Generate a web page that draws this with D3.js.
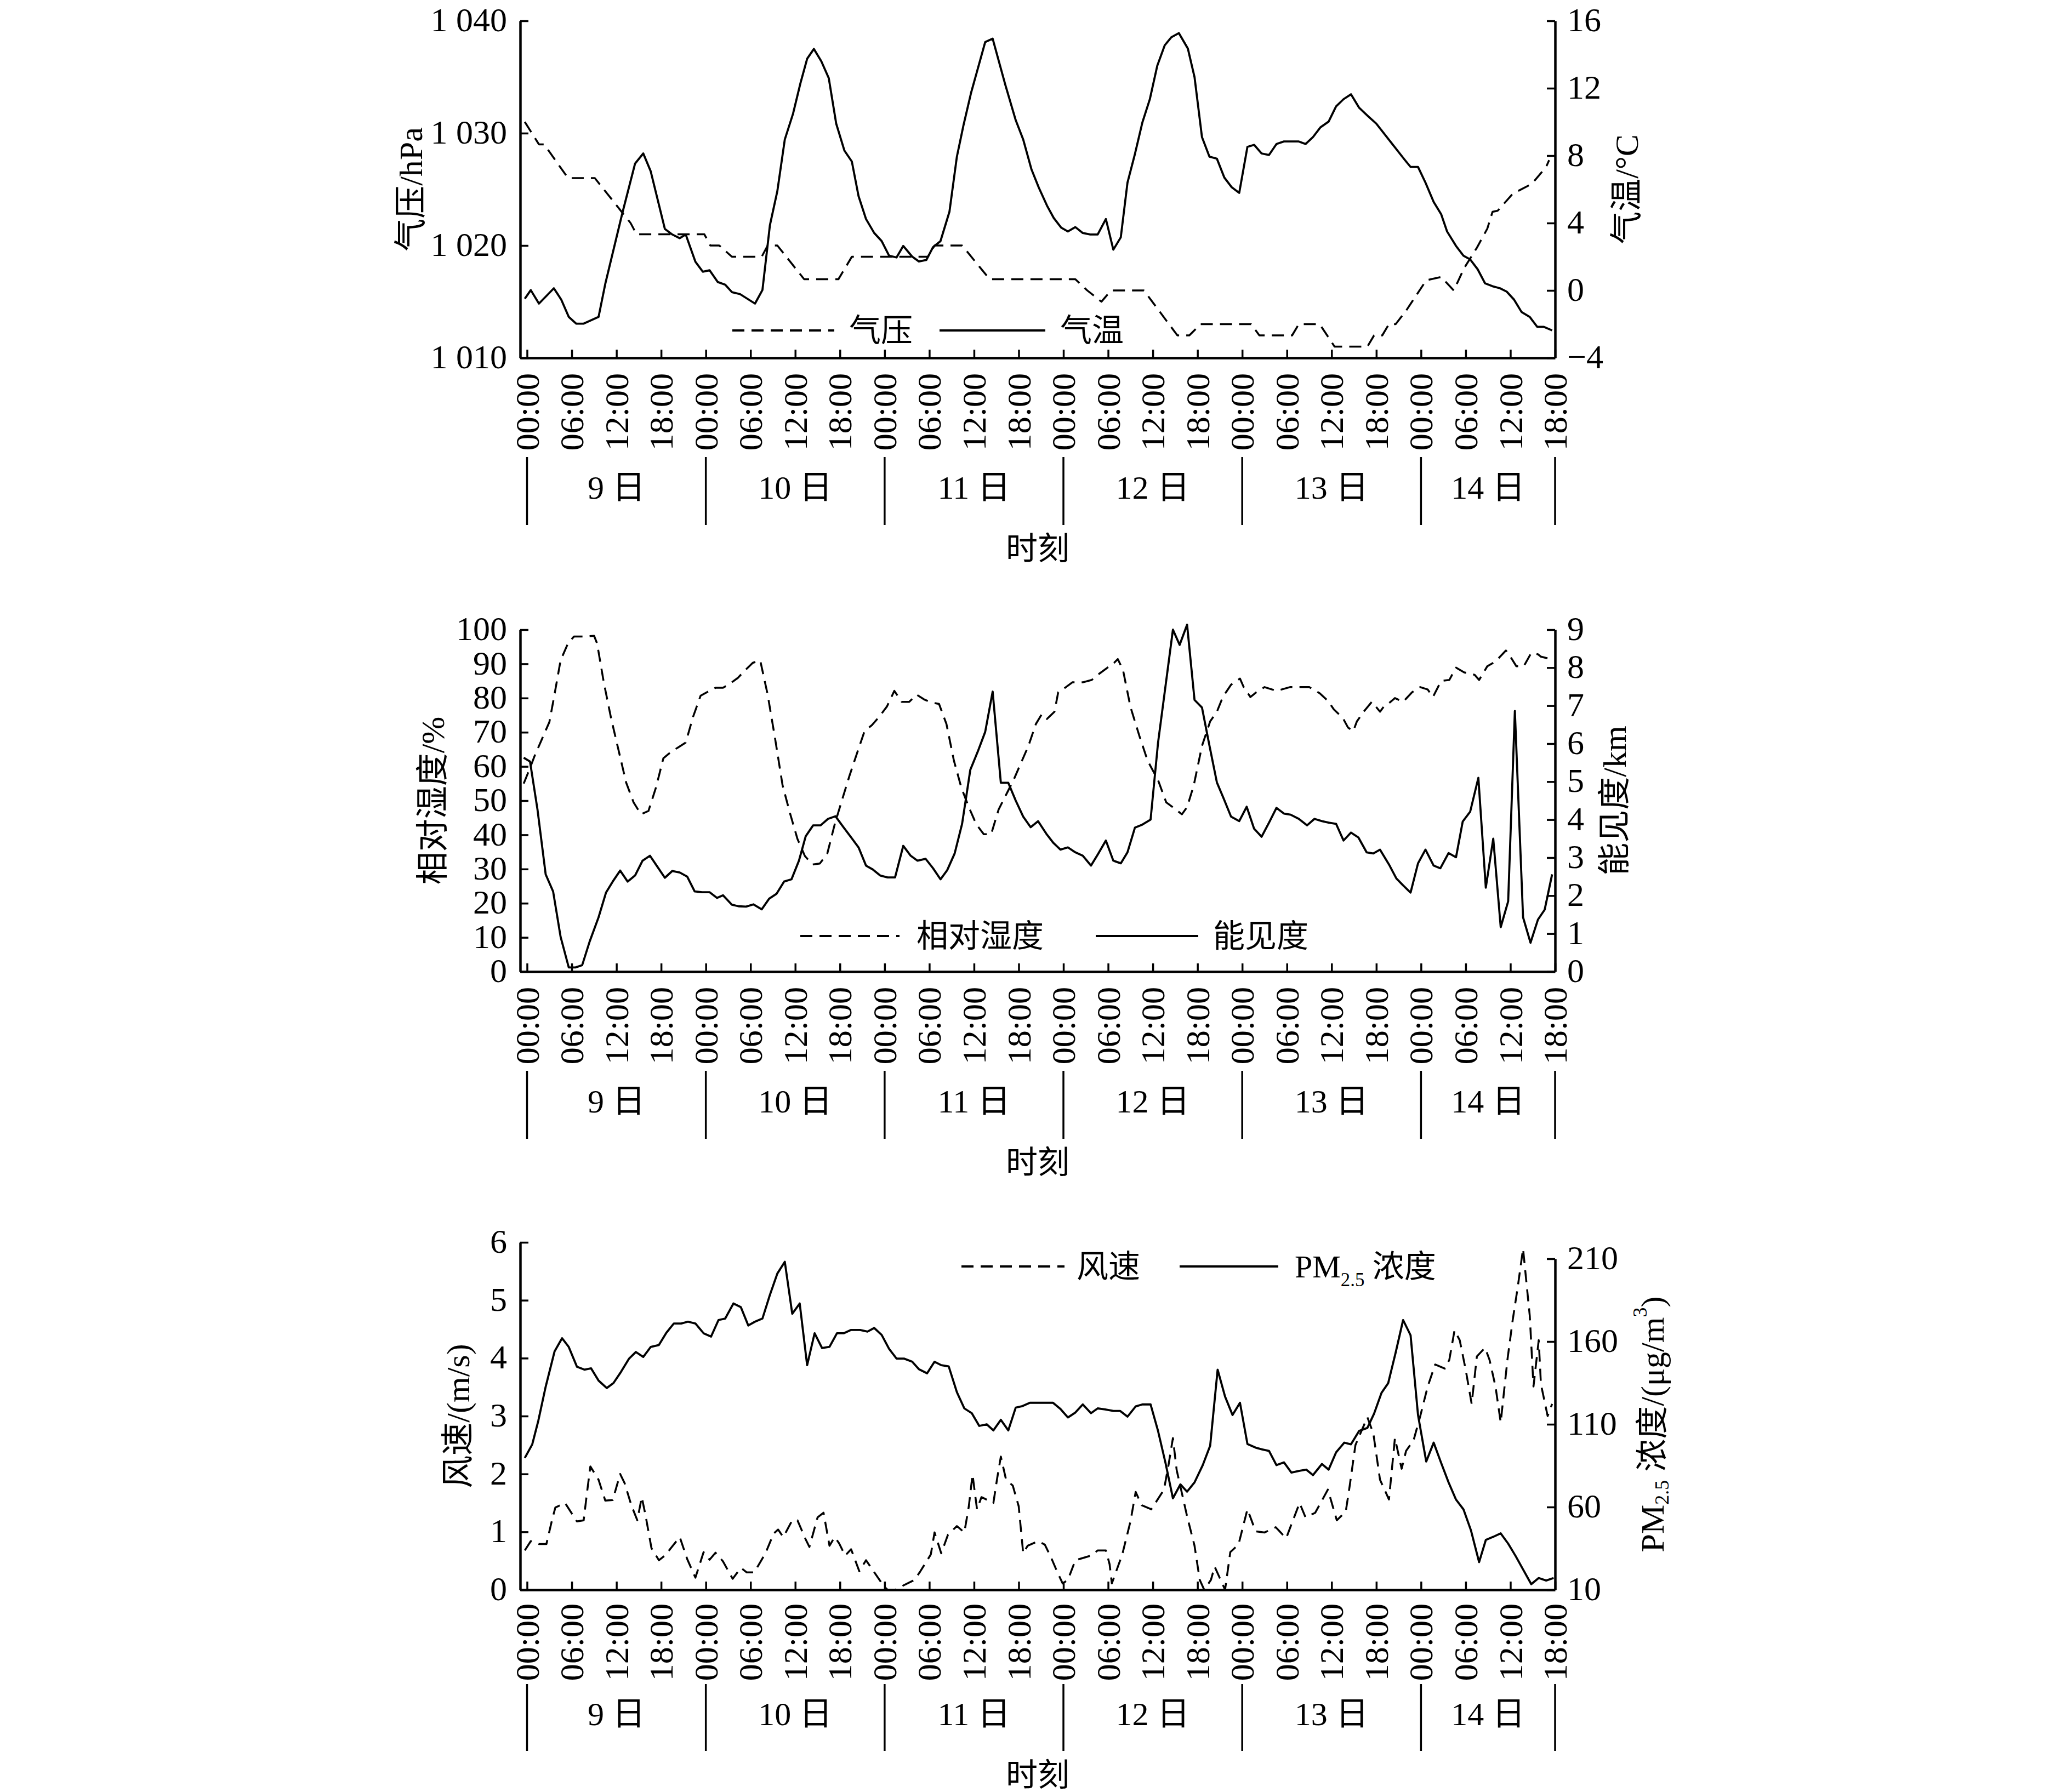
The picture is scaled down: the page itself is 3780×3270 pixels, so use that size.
<!DOCTYPE html>
<html>
<head>
<meta charset="utf-8">
<script src="https://cdn.jsdelivr.net/npm/d3@7"></script>
<style>
  body { margin: 0; background: #fff; }
  svg text { font-family: "Liberation Serif", "Noto Sans CJK SC", serif; fill: #000; }
</style>
</head>
<body>
<svg id="chart" width="3780" height="3270"></svg>
<script>
// time axis (hours from 9日 00:00)
const tickHours = [0, 6, 12, 18, 24, 30, 36, 42, 48, 54, 60, 66, 72, 78, 84, 90, 96, 102, 108, 114, 120, 126, 132, 138];
const tickLabels = [
  "00:00", "06:00", "12:00", "18:00", "00:00", "06:00", "12:00", "18:00",
  "00:00", "06:00", "12:00", "18:00", "00:00", "06:00", "12:00", "18:00",
  "00:00", "06:00", "12:00", "18:00", "00:00", "06:00", "12:00", "18:00"
];
const dayBounds = [0, 24, 48, 72, 96, 120, 138];
const dayLabels = ["9 日", "10 日", "11 日", "12 日", "13 日", "14 日"];

// panel 1: pressure (hPa) and temperature (°C), [hour, value]
const pressureTicks = [1010, 1020, 1030, 1040];
const pressureTickLabels = ["1 010", "1 020", "1 030", "1 040"];
const tempTicks = [-4, 0, 4, 8, 12, 16];
const tempTickLabels = ["\u22124", "0", "4", "8", "12", "16"];

const pressure = [
  [-0.3, 1031], [1.6, 1029], [2.3, 1029], [5.5, 1026], [9.1, 1026], [13.9, 1022], [14.7, 1021],
  [23.8, 1021], [24.6, 1020], [25.8, 1020], [27.5, 1019], [31.5, 1019], [32.3, 1020], [33.6, 1020],
  [37.2, 1017], [41.8, 1017], [43.6, 1019], [53.8, 1019], [54.7, 1020], [58.4, 1020], [62.1, 1017],
  [73.6, 1017], [75.2, 1016], [77.1, 1015], [78.4, 1016], [82.8, 1016], [87.3, 1012], [88.9, 1012],
  [90.4, 1013], [97.2, 1013], [98.3, 1012], [102.7, 1012], [103.6, 1013], [106.4, 1013], [108.4, 1011],
  [112.8, 1011], [113.7, 1012], [114.8, 1012], [115.7, 1013], [116.6, 1013], [118, 1014.2],
  [120.7, 1016.9], [122.7, 1017.2], [124.4, 1016], [125.8, 1018], [127.5, 1019.8], [128.9, 1021.5],
  [129.6, 1023], [130.3, 1023.1], [132.3, 1024.6], [134.9, 1025.5], [136.8, 1027], [137.2, 1027.6]
];

const temperature = [
  [-0.3, -0.49], [0.5, 0.02], [1.6, -0.78], [3.6, 0.13], [4.6, -0.55], [5.6, -1.57], [6.6, -1.97],
  [7.6, -1.97], [9.6, -1.57], [10.5, 0.39], [12.8, 4.6], [14.5, 7.53], [15.6, 8.13], [16.6, 7.07],
  [18.5, 3.65], [19.5, 3.32], [20.5, 3.1], [21.3, 3.32], [22.6, 1.7], [23.6, 1.11], [24.5, 1.2],
  [25.6, 0.5], [26.6, 0.34], [27.5, -0.1], [28.6, -0.22], [30.6, -0.78], [31.6, 0.03], [32.6, 3.87],
  [33.6, 5.9], [34.6, 8.96], [35.7, 10.48], [36.7, 12.3], [37.6, 13.75], [38.5, 14.33], [39.5, 13.6],
  [40.5, 12.6], [41.5, 9.9], [42.6, 8.3], [43.6, 7.65], [44.5, 5.6], [45.5, 4.24], [46.6, 3.41],
  [47.6, 2.93], [48.6, 2.06], [49.6, 1.96], [50.5, 2.64], [51.7, 2.01], [52.6, 1.72], [53.6, 1.81],
  [54.5, 2.57], [55.5, 2.93], [56.7, 4.67], [57.7, 7.94], [58.6, 9.83], [59.6, 11.72], [61.5, 14.74],
  [62.5, 14.94], [64.2, 12.2], [65.6, 10.1], [66.6, 8.96], [67.7, 7.2], [68.7, 6.1], [69.8, 5.03],
  [70.7, 4.3], [71.7, 3.73], [72.6, 3.5], [73.6, 3.76], [74.6, 3.41], [75.6, 3.32], [76.6, 3.32],
  [77.7, 4.24], [78.7, 2.42], [79.7, 3.15], [80.6, 6.4], [81.6, 8.1], [82.6, 9.97], [83.6, 11.35],
  [84.6, 13.34], [85.6, 14.55], [86.5, 15.03], [87.5, 15.27], [88.7, 14.36], [89.6, 12.66], [90.6, 9.1],
  [91.6, 7.94], [92.6, 7.82], [93.6, 6.7], [94.6, 6.12], [95.6, 5.79], [96.7, 8.52], [97.6, 8.64],
  [98.6, 8.13], [99.6, 8.04], [100.6, 8.69], [101.6, 8.84], [103.6, 8.84], [104.5, 8.69], [105.5, 9.1],
  [106.5, 9.68], [107.6, 10.02], [108.6, 10.92], [109.6, 11.35], [110.6, 11.64], [111.7, 10.84],
  [112.9, 10.34], [114, 9.9], [116.5, 8.49], [117.8, 7.76], [118.6, 7.33], [119.6, 7.33], [120.6, 6.4],
  [121.7, 5.25], [122.7, 4.53], [123.5, 3.5], [124.7, 2.64], [125.7, 2.06], [126.6, 1.84], [127.6, 1.26],
  [128.6, 0.42], [129.6, 0.25], [130.6, 0.13], [131.5, -0.07], [132.5, -0.55], [133.5, -1.28],
  [134.6, -1.57], [135.6, -2.16], [136.5, -2.16], [137.6, -2.37]
];

// panel 2: relative humidity (%) and visibility (km)
const humidityTicks = [0, 10, 20, 30, 40, 50, 60, 70, 80, 90, 100];
const humidityTickLabels = ["0", "10", "20", "30", "40", "50", "60", "70", "80", "90", "100"];
const visibilityTicks = [0, 1, 2, 3, 4, 5, 6, 7, 8, 9];
const visibilityTickLabels = ["0", "1", "2", "3", "4", "5", "6", "7", "8", "9"];

const humidity = [
  [-0.45, 55], [0.3, 59], [1, 63], [2, 68], [3, 73], [3.6, 80], [4.5, 91], [5.5, 96], [6.3, 98],
  [7.6, 98], [9, 98.2], [9.4, 96], [10.3, 84.6], [11.3, 73.9], [12.3, 64.6], [13.3, 55.3], [14.3, 49.5],
  [15.3, 46], [16.3, 47], [17.3, 53.8], [18.3, 62.4], [19.3, 64.2], [20.3, 65.6], [21.3, 67], [22.3, 74.6],
  [23.3, 80.7], [24.3, 81.9], [25.3, 83], [26.3, 83], [27.3, 84.3], [28.3, 85.9], [29.3, 88.2],
  [30.3, 90.3], [31.3, 91], [32.3, 81], [33.3, 68.1], [34.3, 54.5], [35.3, 46.3], [36.3, 38.8],
  [37.3, 33.8], [38.3, 31.3], [39.3, 31.6], [40.3, 34.5], [41.3, 43.1], [42.3, 50.3], [43.3, 57.4],
  [44.3, 63.9], [45.3, 70.3], [46.3, 72.1], [47.3, 74.6], [48.3, 77.5], [49.3, 82.1], [50.3, 78.9],
  [51.3, 78.9], [52.3, 81], [53.3, 79.6], [54.3, 78.7], [55.3, 78.3], [56.3, 72.4], [57.3, 61.7],
  [58.3, 53.8], [59.3, 48.1], [60.3, 43.1], [61.3, 40.2], [62.3, 40.2], [63.3, 47.4], [64.3, 51.7],
  [65.3, 56], [66.3, 61], [67.3, 66], [68.3, 72.4], [69.1, 75.3], [69.8, 73.9], [70.8, 76], [71.3, 81.7],
  [71.9, 82.5], [73.2, 84.6], [74.6, 84.6], [75.8, 85.3], [76.8, 87.1], [78.8, 90.3], [79.3, 91.4],
  [80, 88.2], [81, 77.4], [82.2, 68.9], [83.3, 61.7], [84.7, 56], [85.8, 49.5], [87.1, 47.4], [87.9, 46],
  [88.6, 48.1], [89.5, 54.5], [90.6, 66], [91.7, 73.2], [92.6, 76], [93.4, 80.3], [94.5, 83.9],
  [95.7, 85.7], [96.2, 83.2], [97.1, 80.3], [97.9, 81.7], [99, 83.2], [100.6, 82.1], [102.4, 83.2],
  [105, 83.2], [106.4, 81.4], [107.5, 79.2], [108.3, 76.7], [109.5, 74.2], [110.2, 71.4], [110.9, 70.3],
  [111.4, 73.2], [112.3, 76], [113.4, 78.9], [114.5, 76], [115.1, 77.8], [115.7, 78.5], [116.5, 80],
  [117.6, 78.9], [118.8, 81.7], [119.9, 83.2], [120.9, 82.5], [121.6, 80.3], [122.7, 85], [123.8, 85.3],
  [124.7, 88.9], [125.8, 87.5], [127.2, 86.8], [127.8, 85.3], [128.9, 89.3], [130, 90.7], [131.4, 93.9],
  [132, 92.1], [132.8, 89.3], [133.8, 89.3], [134.8, 93.2], [135.7, 92.8], [136.1, 92.1], [137.2, 91.5]
];

const visibility = [
  [-0.45, 5.63], [0.4, 5.53], [1.4, 4.27], [2.5, 2.56], [3.5, 2.11], [4.5, 0.92], [5.6, 0.11], [6.5, 0.11],
  [7.4, 0.17], [8.4, 0.79], [9.6, 1.43], [10.6, 2.08], [11.5, 2.37], [12.5, 2.66], [13.5, 2.37],
  [14.5, 2.53], [15.5, 2.92], [16.5, 3.05], [17.4, 2.79], [18.5, 2.47], [19.5, 2.65], [20.5, 2.61],
  [21.5, 2.5], [22.5, 2.11], [23.5, 2.09], [24.5, 2.09], [25.5, 1.94], [26.3, 2.01], [27.5, 1.76],
  [28.4, 1.72], [29.4, 1.71], [30.4, 1.77], [31.5, 1.64], [32.5, 1.92], [33.5, 2.05], [34.5, 2.37],
  [35.5, 2.43], [36.5, 2.92], [37.4, 3.56], [38.4, 3.85], [39.4, 3.85], [40.4, 4.02], [41.4, 4.09],
  [42.4, 3.82], [43.4, 3.56], [44.5, 3.27], [45.5, 2.79], [46.4, 2.69], [47.4, 2.53], [48.4, 2.48],
  [49.4, 2.48], [50.5, 3.31], [51.5, 3.05], [52.4, 2.92], [53.5, 2.97], [54.5, 2.72], [55.5, 2.43],
  [56.4, 2.67], [57.4, 3.11], [58.4, 3.89], [59.5, 5.31], [60.5, 5.79], [61.5, 6.31], [62.5, 7.37],
  [63.6, 4.97], [64.6, 4.97], [65.6, 4.5], [66.6, 4.08], [67.6, 3.8], [68.6, 3.96], [69.7, 3.63],
  [70.6, 3.4], [71.6, 3.21], [72.6, 3.27], [73.6, 3.14], [74.6, 3.05], [75.7, 2.79], [76.6, 3.08],
  [77.7, 3.45], [78.7, 2.92], [79.7, 2.85], [80.6, 3.14], [81.6, 3.79], [82.6, 3.87], [83.7, 4.0],
  [84.7, 6.02], [86.7, 9.0], [87.6, 8.6], [88.6, 9.13], [89.6, 7.15], [90.6, 6.95], [91.6, 5.95],
  [92.6, 4.98], [93.5, 4.56], [94.5, 4.08], [95.6, 3.96], [96.6, 4.34], [97.6, 3.76], [98.6, 3.55],
  [99.6, 3.92], [100.6, 4.31], [101.6, 4.16], [102.5, 4.13], [103.6, 4.02], [104.7, 3.85], [105.7, 4.02],
  [106.7, 3.96], [107.6, 3.92], [108.6, 3.89], [109.6, 3.45], [110.6, 3.66], [111.6, 3.53], [112.7, 3.14],
  [113.6, 3.11], [114.5, 3.21], [115.7, 2.82], [116.7, 2.45], [117.6, 2.27], [118.6, 2.08], [119.6, 2.85],
  [120.6, 3.21], [121.7, 2.79], [122.6, 2.72], [123.7, 3.12], [124.7, 3.01], [125.6, 3.95], [126.6, 4.21],
  [127.7, 5.1], [128.7, 2.21], [129.7, 3.5], [130.7, 1.17], [131.7, 1.85], [132.6, 6.86], [133.7, 1.43],
  [134.7, 0.76], [135.7, 1.37], [136.6, 1.63], [137.6, 2.56]
];

// panel 3: wind speed (m/s) and PM2.5 (µg/m³)
const windTicks = [0, 1, 2, 3, 4, 5, 6];
const windTickLabels = ["0", "1", "2", "3", "4", "5", "6"];
const pmTicks = [10, 60, 110, 160, 210];
const pmTickLabels = ["10", "60", "110", "160", "210"];

const windSpeed = [
  [-0.3, 0.68], [0.5, 0.84], [1.6, 0.79], [2.6, 0.79], [3.4, 1.23], [3.8, 1.42], [5.1, 1.5], [6.7, 1.18],
  [7.6, 1.2], [8.1, 1.73], [8.5, 2.13], [9.6, 1.9], [10.5, 1.54], [11.5, 1.55], [12.5, 2.0], [13.1, 1.84],
  [14.0, 1.46], [14.8, 1.2], [15.4, 1.6], [15.9, 1.29], [16.7, 0.72], [17.7, 0.51], [18.5, 0.59],
  [20.5, 0.91], [21.5, 0.53], [22.6, 0.21], [23.7, 0.65], [24.5, 0.52], [25.3, 0.64], [26.3, 0.49],
  [27.6, 0.19], [28.7, 0.38], [29.5, 0.3], [30.5, 0.3], [32.0, 0.63], [33.1, 0.97], [33.7, 1.04],
  [34.4, 0.91], [35.6, 1.2], [36.3, 1.2], [37.4, 0.87], [37.9, 0.74], [39.0, 1.25], [39.8, 1.33],
  [40.6, 0.76], [41.3, 0.91], [41.9, 0.8], [42.7, 0.59], [43.5, 0.7], [44.6, 0.32], [45.5, 0.51],
  [46.2, 0.38], [47.9, 0.06], [48.4, 0], [49.4, 0], [50.6, 0.08], [52, 0.17], [52.8, 0.32], [54.2, 0.61],
  [54.7, 0.99], [55.6, 0.63], [56.5, 0.95], [57.7, 1.1], [58.7, 0.99], [59.3, 1.44], [59.8, 1.99],
  [60.4, 1.39], [61.0, 1.6], [62.6, 1.5], [63.1, 1.92], [63.6, 2.3], [64.3, 1.9], [65.2, 1.8], [66.0, 1.44],
  [66.6, 0.63], [67.2, 0.76], [68.6, 0.84], [69.5, 0.78], [70.3, 0.57], [71.2, 0.3], [71.9, 0.11],
  [72.6, 0.17], [73.6, 0.51], [75.7, 0.59], [76.6, 0.68], [77.7, 0.68], [78.2, 0.44], [78.5, 0.11],
  [79.9, 0.61], [81.0, 1.18], [81.7, 1.69], [82.5, 1.46], [83.8, 1.39], [85.5, 1.73], [86.1, 2.15],
  [86.7, 2.62], [87.2, 2.07], [88.6, 1.27], [89.6, 0.76], [90.3, 0.17], [90.9, 0], [91.8, 0.17],
  [92.3, 0.4], [93.0, 0.2], [93.7, 0], [94.4, 0.65], [95.5, 0.78], [96.7, 1.39], [97.8, 1.01], [99.0, 0.99],
  [100.5, 1.08], [101.9, 0.89], [103.7, 1.5], [104.5, 1.25], [105.8, 1.33], [107.5, 1.73], [108.7, 1.2],
  [109.9, 1.35], [110.4, 1.77], [111.2, 2.5], [112.8, 2.98], [113.6, 2.7], [114.5, 1.9], [115.7, 1.56],
  [116.5, 2.62], [117.4, 2.09], [118.0, 2.4], [119.0, 2.58], [119.9, 3.0], [120.9, 3.51], [121.9, 3.89],
  [123.2, 3.82], [123.8, 3.97], [124.5, 4.48], [125.2, 4.31], [126.0, 3.8], [126.8, 3.21], [127.5, 4.03],
  [128.6, 4.18], [129.2, 3.97], [130.0, 3.51], [130.7, 2.89], [131.6, 3.97], [132.3, 4.65], [133.0, 5.24],
  [133.7, 5.89], [134.6, 4.73], [135.1, 3.51], [135.8, 4.31], [136.1, 3.55], [137.0, 3.0], [137.6, 3.21]
];

const pm25 = [
  [-0.3, 89.7], [0.7, 97.9], [1.5, 111.9], [2.5, 132.7], [3.7, 154.1], [4.7, 162], [5.6, 156.7],
  [6.7, 144.8], [7.7, 143], [8.6, 143.8], [9.6, 136.4], [10.7, 131.9], [11.6, 134.9], [12.6, 141.6],
  [13.7, 149.7], [14.6, 153.7], [15.6, 150.7], [16.6, 156.7], [17.7, 157.9], [18.7, 165.3], [19.7, 170.9],
  [20.7, 170.9], [21.6, 172], [22.6, 170.9], [23.7, 165], [24.7, 163], [25.7, 173], [26.6, 173.9],
  [27.7, 183], [28.7, 180.8], [29.7, 169.7], [30.6, 172], [31.6, 173.9], [32.6, 188.2], [33.6, 201.1],
  [34.6, 208.2], [35.6, 176.8], [36.6, 183], [37.6, 145.7], [38.6, 165], [39.6, 156.1], [40.6, 156.8],
  [41.6, 165], [42.5, 165], [43.5, 167], [44.7, 167], [45.7, 166], [46.6, 168.2], [47.6, 164],
  [48.6, 155.6], [49.6, 149.7], [50.6, 149.7], [51.7, 147.8], [52.6, 143.3], [53.7, 140.8], [54.7, 147.8],
  [55.6, 145.7], [56.6, 145], [57.7, 129.4], [58.7, 119.6], [59.7, 116.7], [60.7, 109], [61.7, 110],
  [62.6, 106.3], [63.6, 112.7], [64.6, 106.3], [65.6, 120.1], [66.5, 121], [67.5, 123], [68.6, 123],
  [69.6, 123], [70.6, 123], [71.6, 119.3], [72.6, 114.1], [73.6, 117.1], [74.6, 122], [75.7, 116.7],
  [76.6, 119.6], [77.6, 119], [78.7, 118.1], [79.6, 118.1], [80.6, 114.6], [81.7, 120.8], [82.6, 122],
  [83.7, 122], [84.7, 106], [85.7, 86.7], [86.7, 65.3], [87.7, 73.7], [88.6, 69.3], [89.6, 74.9],
  [90.7, 85.3], [91.7, 97.1], [92.7, 143], [93.7, 126.7], [94.7, 115.6], [95.7, 123], [96.7, 98.1],
  [97.8, 95.9], [98.6, 94.9], [99.6, 93.9], [100.6, 85.3], [101.6, 87], [102.6, 80.8], [103.7, 81.9],
  [104.6, 82.6], [105.5, 79.3], [106.7, 86], [107.6, 82.6], [108.6, 93], [109.7, 98.9], [110.6, 97.9],
  [111.7, 106], [112.8, 107.8], [113.7, 116.4], [114.7, 129], [115.6, 134.9], [116.6, 153.4],
  [117.6, 173], [118.6, 163.8], [119.6, 115.6], [120.7, 87.5], [121.7, 98.9], [122.7, 86.7],
  [123.7, 74.9], [124.7, 64.5], [125.7, 58.6], [126.7, 46], [127.8, 26.7], [128.7, 40.1], [129.7, 42],
  [130.7, 44.1], [131.7, 37.9], [132.7, 30.4], [133.7, 22.3], [134.8, 13.4], [135.8, 17.1],
  [136.8, 15.6], [137.8, 17.1]
];

// ---- layout ----
const X_LEFT = 949;
const X_RIGHT = 2837;
const TICK_LEN = 15;
const NUM_FONT = 62;
const CJK_FONT = 58;

const x = d3.scaleLinear().domain([-0.92, 138]).range([X_LEFT, X_RIGHT]);

const panels = [
  {
    axisY: 653,
    below: { ticks: 28, sepTop: 181, sepBottom: 305, day: 237, title: 348 },
    left: { domain: [1010, 1040], range: [653, 38], ticks: pressureTicks, labels: pressureTickLabels,
            title: [{ t: "气压/hPa" }], titleX: 750 },
    right: { domain: [-4, 16], range: [653, 38], ticks: tempTicks, labels: tempTickLabels,
             title: [{ t: "气温/°C" }], titleX: 2968 },
    dashed: pressure, solid: temperature,
    legend: { y: 603, dash: [1336, 1522], dashText: [{ t: "气压" }], dashTextX: 1549,
              solid: [1714, 1907], solidText: [{ t: "气温" }], solidTextX: 1934 }
  },
  {
    axisY: 1773,
    below: { ticks: 28, sepTop: 181, sepBottom: 305, day: 237, title: 348 },
    left: { domain: [0, 100], range: [1773, 1149], ticks: humidityTicks, labels: humidityTickLabels,
            title: [{ t: "相对湿度/%" }], titleX: 790 },
    right: { domain: [0, 9], range: [1773, 1149], ticks: visibilityTicks, labels: visibilityTickLabels,
             title: [{ t: "能见度/km" }], titleX: 2946 },
    dashed: humidity, solid: visibility,
    legend: { y: 1708, dash: [1460, 1641], dashText: [{ t: "相对湿度" }], dashTextX: 1672,
              solid: [1999, 2186], solidText: [{ t: "能见度" }], solidTextX: 2213 }
  },
  {
    axisY: 2901,
    below: { ticks: 25, sepTop: 172, sepBottom: 294, day: 227, title: 338 },
    left: { domain: [0, 6], range: [2901, 2267], ticks: windTicks, labels: windTickLabels,
            title: [{ t: "风速/(m/s)" }], titleX: 836 },
    right: { domain: [10, 210], range: [2901, 2297], ticks: pmTicks, labels: pmTickLabels,
             title: [{ t: "PM" }, { t: "2.5", sub: true }, { t: " 浓度/(μg/m" }, { t: "3", sup: true }, { t: ")" }],
             titleX: 3015 },
    dashed: windSpeed, solid: pm25,
    legend: { y: 2311, dash: [1754, 1942], dashText: [{ t: "风速" }], dashTextX: 1964,
              solid: [2152, 2332], solidText: [{ t: "PM" }, { t: "2.5", sub: true }, { t: " 浓度" }],
              solidTextX: 2362 }
  }
];

const svg = d3.select("#chart");

function addRichText(sel, parts, size) {
  let shift = 0;
  parts.forEach((p) => {
    const span = sel.append("tspan").text(p.t);
    let target = 0;
    if (p.sub) target = size * 0.28;
    if (p.sup) target = -size * 0.38;
    if (target - shift !== 0) span.attr("dy", target - shift);
    shift = target;
    if (p.sub || p.sup) span.attr("font-size", size * 0.6);
  });
}

function drawPanel(p) {
  const g = svg.append("g");
  const yL = d3.scaleLinear().domain(p.left.domain).range(p.left.range);
  const yR = d3.scaleLinear().domain(p.right.domain).range(p.right.range);
  const A = p.axisY;
  const b = p.below;

  const leftAxis = d3.axisLeft(yL).tickValues(p.left.ticks)
    .tickFormat((d, i) => p.left.labels[i]).tickSizeInner(-TICK_LEN).tickSizeOuter(0).tickPadding(24);
  const gl = g.append("g").attr("transform", `translate(${X_LEFT},0)`).call(leftAxis);

  const rightAxis = d3.axisRight(yR).tickValues(p.right.ticks)
    .tickFormat((d, i) => p.right.labels[i]).tickSizeInner(-TICK_LEN).tickSizeOuter(0).tickPadding(22);
  const gr = g.append("g").attr("transform", `translate(${X_RIGHT},0)`).call(rightAxis);

  // bottom axis: ticks point inward, labels drawn rotated separately
  const bottomAxis = d3.axisBottom(x).tickValues(tickHours).tickFormat("")
    .tickSizeInner(-TICK_LEN).tickSizeOuter(0);
  const gb = g.append("g").attr("transform", `translate(0,${A})`).call(bottomAxis);

  [gl, gr, gb].forEach((ax) => {
    ax.select(".domain").attr("stroke", "#000").attr("stroke-width", 4.5);
    ax.selectAll(".tick line").attr("stroke", "#000").attr("stroke-width", 3.5);
    ax.selectAll(".tick text")
      .attr("font-size", NUM_FONT)
      .attr("fill", "#000");
  });
  gl.selectAll(".tick text").attr("dy", "0.3em");
  gr.selectAll(".tick text").attr("dy", "0.3em");

  // rotated hour labels
  g.append("g").selectAll("text").data(tickHours).join("text")
    .attr("transform", (d) => `translate(${x(d)},${A + b.ticks}) rotate(-90)`)
    .attr("text-anchor", "end")
    .attr("dy", "0.34em")
    .attr("font-size", NUM_FONT)
    .text((d, i) => tickLabels[i]);

  // day separators and labels
  g.append("g").selectAll("line").data(dayBounds).join("line")
    .attr("x1", (d) => x(d)).attr("x2", (d) => x(d))
    .attr("y1", A + b.sepTop).attr("y2", A + b.sepBottom)
    .attr("stroke", "#000").attr("stroke-width", 3.5);

  g.append("g").selectAll("text").data(dayLabels).join("text")
    .attr("x", (d, i) => (x(dayBounds[i]) + x(dayBounds[i + 1])) / 2)
    .attr("y", A + b.day)
    .attr("text-anchor", "middle")
    .attr("dominant-baseline", "central")
    .attr("font-size", CJK_FONT + 2)
    .text((d) => d);

  g.append("text")
    .attr("x", (X_LEFT + X_RIGHT) / 2)
    .attr("y", A + b.title)
    .attr("text-anchor", "middle")
    .attr("dominant-baseline", "central")
    .attr("font-size", CJK_FONT)
    .text("时刻");

  // axis titles
  [p.left, p.right].forEach((side) => {
    const cy = (side.range[0] + side.range[1]) / 2;
    const t = g.append("text")
      .attr("transform", `translate(${side.titleX},${cy}) rotate(-90)`)
      .attr("text-anchor", "middle")
      .attr("dominant-baseline", "central")
      .attr("font-size", CJK_FONT + 2);
    addRichText(t, side.title, CJK_FONT + 2);
  });

  // series
  const dashedLine = d3.line().x((d) => x(d[0])).y((d) => yL(d[1]));
  const solidLine = d3.line().x((d) => x(d[0])).y((d) => yR(d[1]));

  g.append("path").datum(p.dashed)
    .attr("d", dashedLine)
    .attr("fill", "none").attr("stroke", "#000").attr("stroke-width", 3.5)
    .attr("stroke-dasharray", "22,13").attr("stroke-linejoin", "round");

  g.append("path").datum(p.solid)
    .attr("d", solidLine)
    .attr("fill", "none").attr("stroke", "#000").attr("stroke-width", 3.8)
    .attr("stroke-linejoin", "round");

  // legend
  const lg = p.legend;
  g.append("line")
    .attr("x1", lg.dash[0]).attr("x2", lg.dash[1]).attr("y1", lg.y).attr("y2", lg.y)
    .attr("stroke", "#000").attr("stroke-width", 4).attr("stroke-dasharray", "22,13");
  g.append("line")
    .attr("x1", lg.solid[0]).attr("x2", lg.solid[1]).attr("y1", lg.y).attr("y2", lg.y)
    .attr("stroke", "#000").attr("stroke-width", 4);

  const t1 = g.append("text").attr("x", lg.dashTextX).attr("y", lg.y + 20).attr("font-size", CJK_FONT);
  addRichText(t1, lg.dashText, CJK_FONT);
  const t2 = g.append("text").attr("x", lg.solidTextX).attr("y", lg.y + 20).attr("font-size", CJK_FONT);
  addRichText(t2, lg.solidText, CJK_FONT);
}

panels.forEach(drawPanel);
</script>
</body>
</html>
